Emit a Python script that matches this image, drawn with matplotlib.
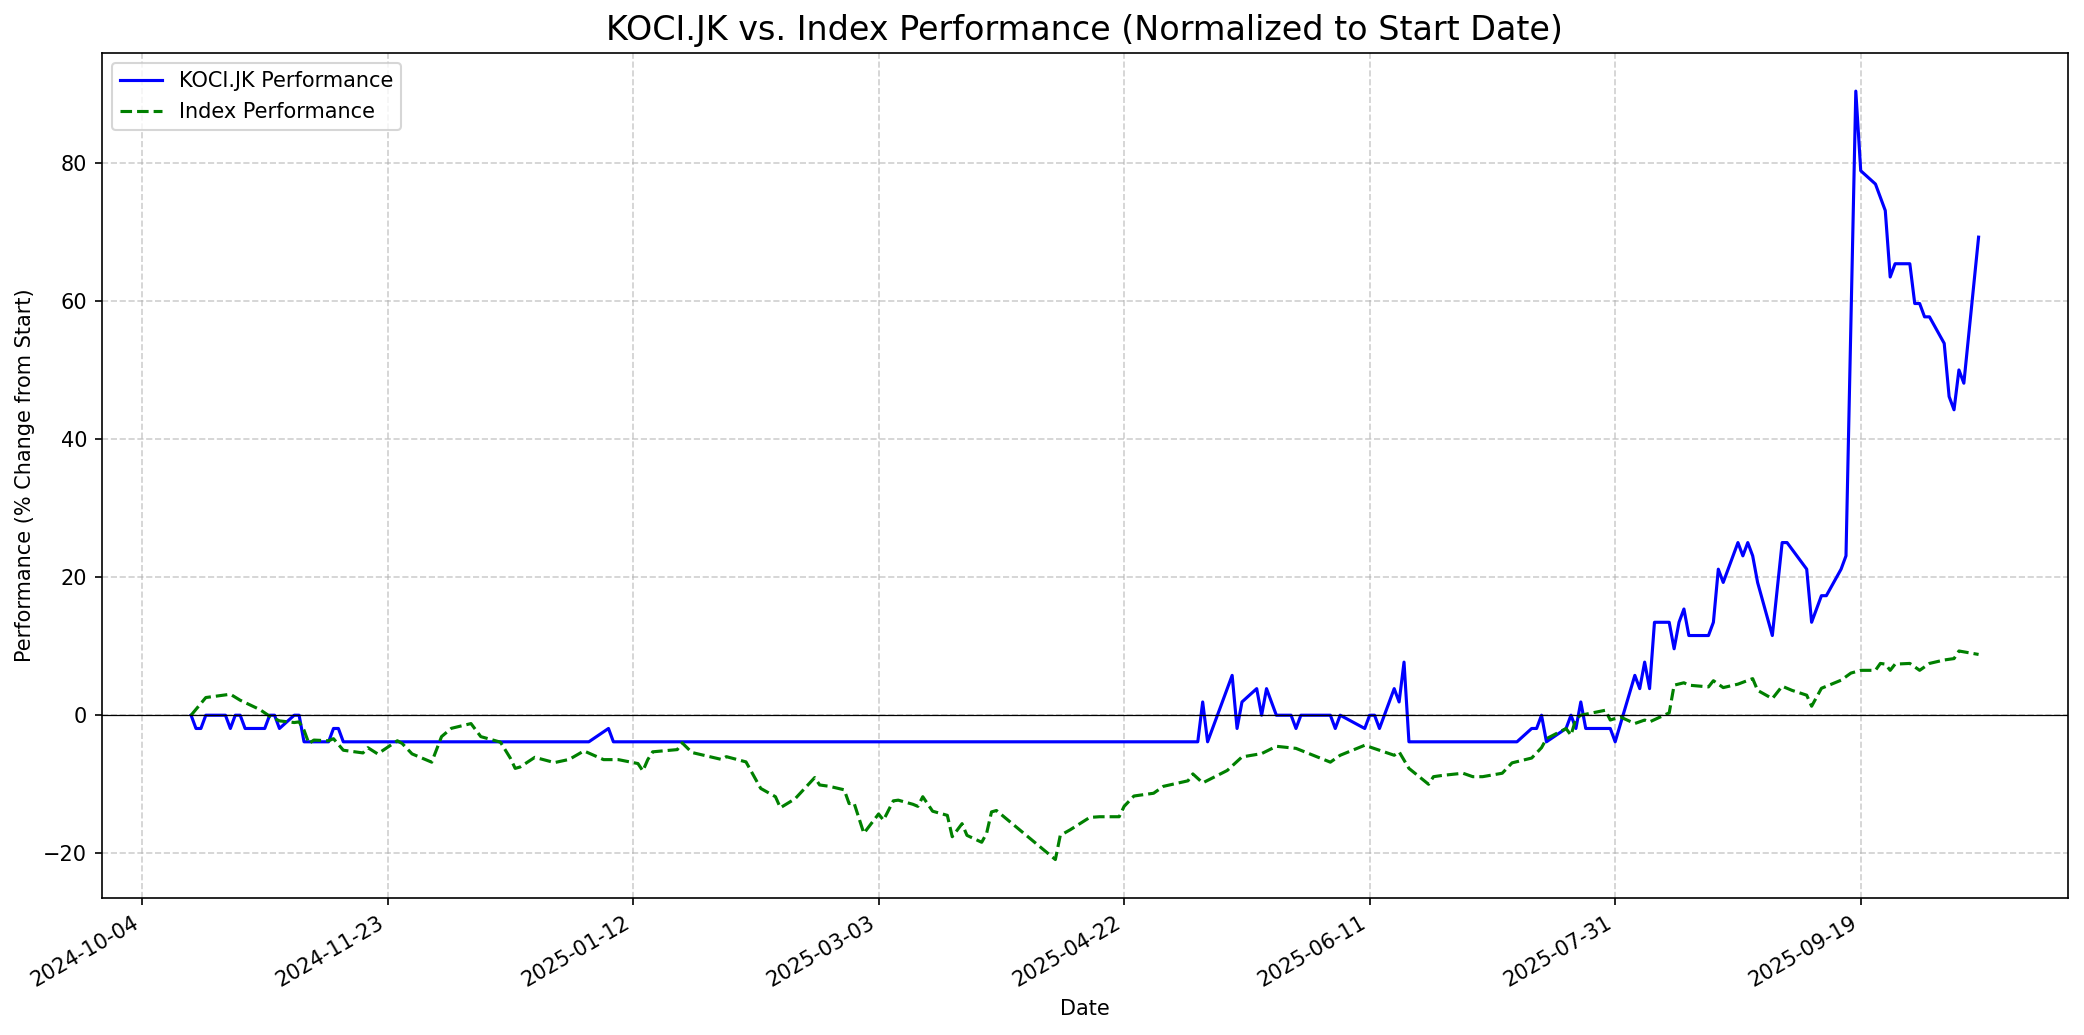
import matplotlib
matplotlib.use("Agg")
import matplotlib.pyplot as plt
import matplotlib.dates as mdates
import matplotlib.ticker as mticker
import pandas as pd

# KOCI.JK performance (% change from start), vertices
koci_dates = [
    "2024-10-14", "2024-10-15", "2024-10-16", "2024-10-17", "2024-10-21", "2024-10-22",
    "2024-10-23", "2024-10-24", "2024-10-25", "2024-10-29", "2024-10-30", "2024-10-31",
    "2024-11-01", "2024-11-04", "2024-11-05", "2024-11-06", "2024-11-11", "2024-11-12",
    "2024-11-13", "2024-11-14", "2025-01-03", "2025-01-07", "2025-01-08", "2025-05-07",
    "2025-05-08", "2025-05-09", "2025-05-14", "2025-05-15", "2025-05-16", "2025-05-19",
    "2025-05-20", "2025-05-21", "2025-05-23", "2025-05-26", "2025-05-27", "2025-05-28",
    "2025-06-03", "2025-06-04", "2025-06-05", "2025-06-10", "2025-06-11", "2025-06-12",
    "2025-06-13", "2025-06-16", "2025-06-17", "2025-06-18", "2025-06-19", "2025-07-11",
    "2025-07-14", "2025-07-15", "2025-07-16", "2025-07-17", "2025-07-21", "2025-07-22",
    "2025-07-23", "2025-07-24", "2025-07-25", "2025-07-30", "2025-07-31", "2025-08-04",
    "2025-08-05", "2025-08-06", "2025-08-07", "2025-08-08", "2025-08-11", "2025-08-12",
    "2025-08-13", "2025-08-14", "2025-08-15", "2025-08-19", "2025-08-20", "2025-08-21",
    "2025-08-22", "2025-08-25", "2025-08-26", "2025-08-27", "2025-08-28", "2025-08-29",
    "2025-09-01", "2025-09-03", "2025-09-04", "2025-09-08", "2025-09-09", "2025-09-10",
    "2025-09-11", "2025-09-12", "2025-09-15", "2025-09-16", "2025-09-18", "2025-09-19",
    "2025-09-22", "2025-09-24", "2025-09-25", "2025-09-26", "2025-09-29", "2025-09-30",
    "2025-10-01", "2025-10-02", "2025-10-03", "2025-10-06", "2025-10-07", "2025-10-08",
    "2025-10-09", "2025-10-10", "2025-10-13",
]
koci_values = [
    0.00, -1.92, -1.92, 0.00, 0.00, -1.92,
    0.00, 0.00, -1.92, -1.92, 0.00, 0.00,
    -1.92, 0.00, 0.00, -3.85, -3.85, -1.92,
    -1.92, -3.85, -3.85, -1.92, -3.85, -3.85,
    1.92, -3.85, 5.77, -1.92, 1.92, 3.85,
    0.00, 3.85, 0.00, 0.00, -1.92, 0.00,
    0.00, -1.92, 0.00, -1.92, 0.00, 0.00,
    -1.92, 3.85, 1.92, 7.69, -3.85, -3.85,
    -1.92, -1.92, 0.00, -3.85, -1.92, 0.00,
    -1.92, 1.92, -1.92, -1.92, -3.85, 5.77,
    3.85, 7.69, 3.85, 13.46, 13.46, 9.62,
    13.46, 15.38, 11.54, 11.54, 13.46, 21.15,
    19.23, 25.00, 23.08, 25.00, 23.08, 19.23,
    11.54, 25.00, 25.00, 21.15, 13.46, 15.38,
    17.31, 17.31, 21.15, 23.08, 90.38, 78.85,
    76.92, 73.08, 63.46, 65.38, 65.38, 59.62,
    59.62, 57.69, 57.69, 53.85, 46.15, 44.23,
    50.00, 48.08, 69.23,
]

# Index performance (% change from start), vertices
index_dates = [
    "2024-10-14", "2024-10-17", "2024-10-22", "2024-10-24", "2024-10-28", "2024-10-30",
    "2024-11-01", "2024-11-04", "2024-11-05", "2024-11-06", "2024-11-07", "2024-11-08",
    "2024-11-11", "2024-11-12", "2024-11-14", "2024-11-18", "2024-11-19", "2024-11-21",
    "2024-11-25", "2024-11-26", "2024-11-28", "2024-12-02", "2024-12-04", "2024-12-06",
    "2024-12-10", "2024-12-12", "2024-12-16", "2024-12-18", "2024-12-19", "2024-12-20",
    "2024-12-23", "2024-12-27", "2024-12-30", "2025-01-02", "2025-01-06", "2025-01-09",
    "2025-01-13", "2025-01-14", "2025-01-15", "2025-01-16", "2025-01-21", "2025-01-22",
    "2025-01-24", "2025-01-30", "2025-01-31", "2025-02-04", "2025-02-07", "2025-02-10",
    "2025-02-11", "2025-02-14", "2025-02-18", "2025-02-19", "2025-02-21", "2025-02-24",
    "2025-02-25", "2025-02-26", "2025-02-28", "2025-03-03", "2025-03-04", "2025-03-06",
    "2025-03-07", "2025-03-10", "2025-03-11", "2025-03-12", "2025-03-14", "2025-03-17",
    "2025-03-18", "2025-03-20", "2025-03-21", "2025-03-24", "2025-03-25", "2025-03-26",
    "2025-03-27", "2025-04-08", "2025-04-09", "2025-04-11", "2025-04-15", "2025-04-17",
    "2025-04-21", "2025-04-22", "2025-04-24", "2025-04-28", "2025-04-30", "2025-05-05",
    "2025-05-06", "2025-05-08", "2025-05-13", "2025-05-16", "2025-05-20", "2025-05-23",
    "2025-05-27", "2025-06-03", "2025-06-05", "2025-06-10", "2025-06-16", "2025-06-17",
    "2025-06-19", "2025-06-23", "2025-06-24", "2025-06-26", "2025-06-30", "2025-07-02",
    "2025-07-04", "2025-07-08", "2025-07-10", "2025-07-14", "2025-07-16", "2025-07-17",
    "2025-07-21", "2025-07-22", "2025-07-23", "2025-07-24", "2025-07-29", "2025-07-30",
    "2025-08-01", "2025-08-04", "2025-08-06", "2025-08-07", "2025-08-11", "2025-08-12",
    "2025-08-14", "2025-08-15", "2025-08-19", "2025-08-20", "2025-08-22", "2025-08-25",
    "2025-08-28", "2025-08-29", "2025-09-01", "2025-09-03", "2025-09-05", "2025-09-08",
    "2025-09-09", "2025-09-11", "2025-09-15", "2025-09-17", "2025-09-19", "2025-09-22",
    "2025-09-23", "2025-09-24", "2025-09-25", "2025-09-26", "2025-09-29", "2025-10-01",
    "2025-10-03", "2025-10-06", "2025-10-08", "2025-10-09", "2025-10-13",
]
index_values = [
    0.00, 2.56, 3.04, 2.17, 0.82, -0.14,
    -0.82, -1.06, -0.97, -2.17, -4.10, -3.60,
    -3.70, -3.40, -5.07, -5.46, -4.70, -5.60,
    -3.70, -4.10, -5.60, -6.80, -3.10, -1.90,
    -1.21, -3.10, -3.90, -6.20, -7.70, -7.50,
    -6.10, -6.86, -6.40, -5.17, -6.43, -6.43,
    -7.00, -8.07, -6.43, -5.30, -4.98, -4.00,
    -5.40, -6.40, -6.00, -6.76, -10.60, -11.80,
    -13.40, -12.10, -9.03, -10.10, -10.30, -10.80,
    -12.80, -12.70, -17.10, -14.30, -15.20, -12.40,
    -12.30, -12.90, -13.20, -11.80, -13.90, -14.50,
    -17.60, -15.70, -17.40, -18.40, -17.10, -14.00,
    -13.80, -20.90, -17.40, -16.60, -14.80, -14.70,
    -14.70, -13.20, -11.70, -11.30, -10.30, -9.50,
    -8.50, -9.80, -8.00, -6.04, -5.56, -4.50,
    -4.80, -6.80, -5.80, -4.35, -5.80, -5.30,
    -7.70, -10.00, -8.90, -8.70, -8.40, -8.90,
    -8.90, -8.40, -6.90, -6.20, -4.70, -3.40,
    -1.93, -2.90, -0.50, 0.00, 0.72, -0.70,
    -0.24, -1.20, -0.70, -0.97, 0.34, 4.35,
    4.70, 4.35, 4.10, 5.00, 4.00, 4.50,
    5.30, 3.60, 2.40, 4.20, 3.60, 2.90,
    1.30, 3.90, 5.07, 6.10, 6.50, 6.50,
    7.50, 7.40, 6.50, 7.40, 7.50, 6.50,
    7.50, 8.00, 8.20, 9.30, 8.80,
]

stock_label = "KOCI.JK Performance"
index_label = "Index Performance"
title = "KOCI.JK vs. Index Performance (Normalized to Start Date)"

fig, ax = plt.subplots(figsize=(2084 / 150, 1035 / 150), dpi=150)

ax.plot(pd.to_datetime(koci_dates), koci_values, color="blue", linestyle="-",
        linewidth=1.5, label=stock_label)
ax.plot(pd.to_datetime(index_dates), index_values, color="green", linestyle="--",
        linewidth=1.5, label=index_label)
ax.axhline(0, color="black", linewidth=0.6)

ax.set_title(title, fontsize=16)
ax.set_xlabel("Date")
ax.set_ylabel("Performance (% Change from Start)")
ax.legend(loc="upper left")
ax.grid(True, linestyle="--", alpha=0.6)

ax.xaxis.set_major_locator(mticker.MultipleLocator(50))
ax.xaxis.set_major_formatter(mdates.DateFormatter("%Y-%m-%d"))
fig.autofmt_xdate()

fig.subplots_adjust(left=0.0488, right=0.9923, top=0.9491, bottom=0.1324)
fig.savefig("out.png", dpi=150)
